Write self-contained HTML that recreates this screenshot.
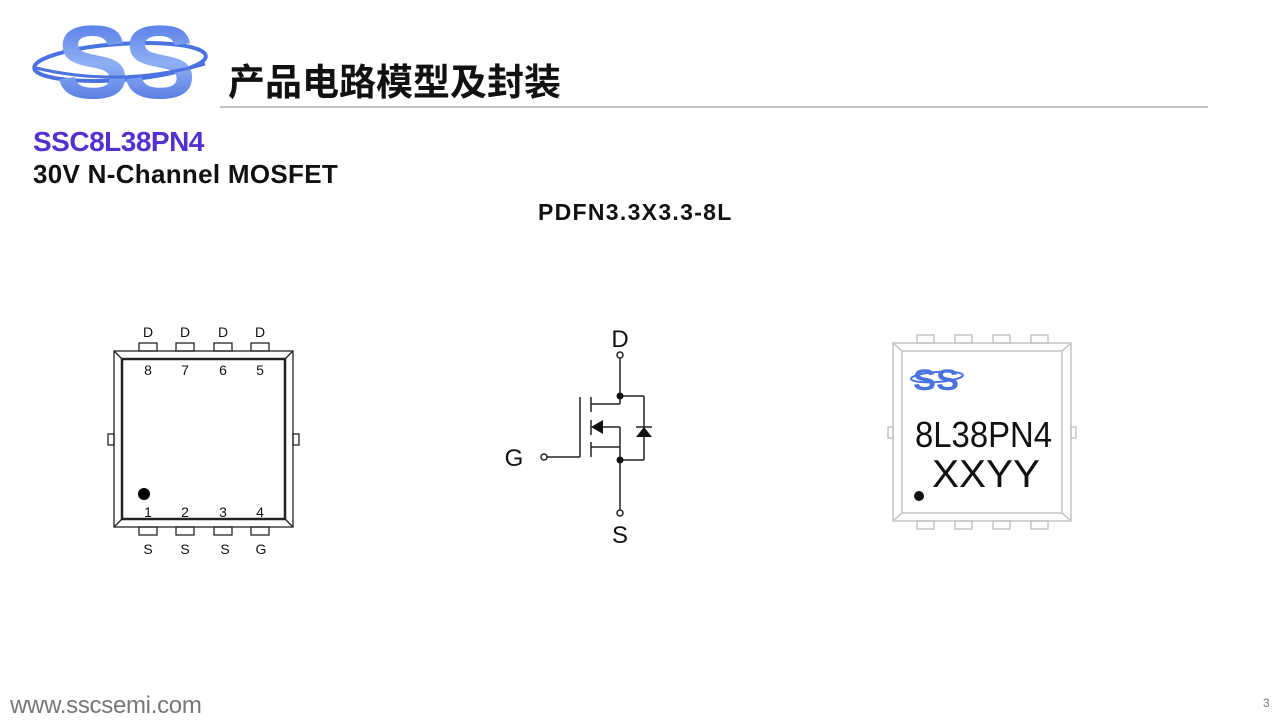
<!DOCTYPE html>
<html><head><meta charset="utf-8"><style>
body{margin:0;width:1280px;height:720px;background:#fff;overflow:hidden;position:relative;font-family:"Liberation Sans",Arial,sans-serif}
.a{position:absolute;white-space:nowrap}
</style></head><body>
<svg width="1280" height="720" style="position:absolute;left:0;top:0" font-family="Liberation Sans, Arial, sans-serif">
<defs><linearGradient id="g" x1="0" y1="0" x2="0" y2="1"><stop offset="0" stop-color="#3f6be0"/><stop offset="0.5" stop-color="#8fb0f5"/><stop offset="1" stop-color="#3a62d8"/></linearGradient></defs>
<!-- logo -->
<ellipse cx="120" cy="62" rx="86" ry="18" fill="none" stroke="#4a72e0" stroke-width="4" transform="rotate(-4 120 62)"/>
<text x="56" y="98" font-size="104" font-weight="bold" fill="url(#g)" letter-spacing="-6" textLength="134" lengthAdjust="spacingAndGlyphs">SS</text>
<path d="M36 68 Q120 88 205 64" fill="none" stroke="#4a72e0" stroke-width="3"/>
<line x1="220" y1="107" x2="1208" y2="107" stroke="#888" stroke-width="1"/>
<!-- left package -->
<g fill="none" stroke="#222" stroke-width="1.3">
<rect x="114" y="351" width="179" height="176"/>
<rect x="122" y="359" width="163" height="160" stroke-width="2.5"/>
<line x1="114" y1="351" x2="122" y2="359"/><line x1="293" y1="351" x2="285" y2="359"/>
<line x1="114" y1="527" x2="122" y2="519"/><line x1="293" y1="527" x2="285" y2="519"/>
<rect x="139" y="343" width="18" height="8"/><rect x="176" y="343" width="18" height="8"/><rect x="214" y="343" width="18" height="8"/><rect x="251" y="343" width="18" height="8"/>
<rect x="139" y="527" width="18" height="8"/><rect x="176" y="527" width="18" height="8"/><rect x="214" y="527" width="18" height="8"/><rect x="251" y="527" width="18" height="8"/>
<rect x="108" y="434" width="6" height="11"/><rect x="293" y="434" width="6" height="11"/>
</g>
<g font-size="14" fill="#111" text-anchor="middle">
<text x="148" y="337">D</text><text x="185" y="337">D</text><text x="223" y="337">D</text><text x="260" y="337">D</text>
<text x="148" y="375">8</text><text x="185" y="375">7</text><text x="223" y="375">6</text><text x="260" y="375">5</text>
<text x="148" y="517">1</text><text x="185" y="517">2</text><text x="223" y="517">3</text><text x="260" y="517">4</text>
<text x="148" y="554">S</text><text x="185" y="554">S</text><text x="225" y="554">S</text><text x="261" y="554">G</text>
</g>
<circle cx="144" cy="494" r="6" fill="#000"/>
<!-- mosfet -->
<g stroke="#222" stroke-width="1.5" fill="none">
<line x1="620" y1="358" x2="620" y2="404"/>
<line x1="591" y1="404" x2="620" y2="404"/>
<line x1="620" y1="396" x2="644" y2="396"/><line x1="644" y1="396" x2="644" y2="460"/><line x1="644" y1="460" x2="620" y2="460"/>
<line x1="620" y1="427" x2="620" y2="510"/>
<line x1="600" y1="427" x2="620" y2="427"/>
<line x1="591" y1="447" x2="620" y2="447"/>
<line x1="580" y1="397" x2="580" y2="457"/>
<line x1="547" y1="457" x2="580" y2="457"/>
<line x1="591" y1="397" x2="591" y2="412"/><line x1="591" y1="420" x2="591" y2="435"/><line x1="591" y1="442" x2="591" y2="457"/>
<line x1="636" y1="427" x2="652" y2="427"/>
<circle cx="620" cy="355" r="3" fill="#fff"/><circle cx="620" cy="513" r="3" fill="#fff"/><circle cx="544" cy="457" r="3" fill="#fff"/>
</g>
<polygon points="591,427 603,420 603,434" fill="#111"/>
<polygon points="644,427 636,437 652,437" fill="#111"/>
<circle cx="620" cy="396" r="3.5" fill="#111"/><circle cx="620" cy="460" r="3.5" fill="#111"/>
<g font-size="24" fill="#111" text-anchor="middle"><text x="620" y="347">D</text><text x="620" y="543">S</text><text x="514" y="466">G</text></g>
<!-- right package -->
<g fill="none" stroke="#bbb" stroke-width="1.3">
<rect x="893" y="343" width="178" height="178"/>
<rect x="902" y="351" width="160" height="162"/>
<line x1="893" y1="343" x2="902" y2="351"/><line x1="1071" y1="343" x2="1062" y2="351"/>
<line x1="893" y1="521" x2="902" y2="513"/><line x1="1071" y1="521" x2="1062" y2="513"/>
<rect x="917" y="335" width="17" height="8"/><rect x="955" y="335" width="17" height="8"/><rect x="993" y="335" width="17" height="8"/><rect x="1031" y="335" width="17" height="8"/>
<rect x="917" y="521" width="17" height="8"/><rect x="955" y="521" width="17" height="8"/><rect x="993" y="521" width="17" height="8"/><rect x="1031" y="521" width="17" height="8"/>
<rect x="888" y="427" width="5" height="11"/><rect x="1071" y="427" width="5" height="11"/>
</g>
<ellipse cx="937" cy="377" rx="26" ry="5" fill="none" stroke="#4a72e0" stroke-width="2" transform="rotate(-4 937 377)"/>
<text x="913" y="390" font-size="30" font-weight="bold" fill="#4a72e0" textLength="46" lengthAdjust="spacingAndGlyphs">SS</text>
<text x="915" y="447" font-size="36" fill="#111" textLength="137" lengthAdjust="spacingAndGlyphs">8L38PN4</text>
<text x="932" y="487" font-size="39" fill="#111" textLength="108" lengthAdjust="spacingAndGlyphs">XXYY</text>
<circle cx="919" cy="496" r="5" fill="#111"/>
</svg>
<div class="a" style="left:228px;top:52px;font-size:37px;font-weight:bold;font-family:'Noto Sans CJK SC',sans-serif;color:#111">产品电路模型及封装</div>
<div class="a" style="left:33px;top:126px;font-size:28px;font-weight:bold;color:#5530d0;letter-spacing:-0.5px">SSC8L38PN4</div>
<div class="a" style="left:33px;top:159px;font-size:26px;font-weight:bold;color:#111;letter-spacing:0.3px">30V N-Channel MOSFET</div>
<div class="a" style="left:538px;top:199px;font-size:23px;font-weight:bold;color:#111;letter-spacing:1.3px">PDFN3.3X3.3-8L</div>
<div class="a" style="left:10px;top:692px;font-size:24px;color:#777;letter-spacing:-0.3px">www.sscsemi.com</div>
<div class="a" style="left:1263px;top:696px;font-size:12px;color:#777">3</div>
</body></html>
